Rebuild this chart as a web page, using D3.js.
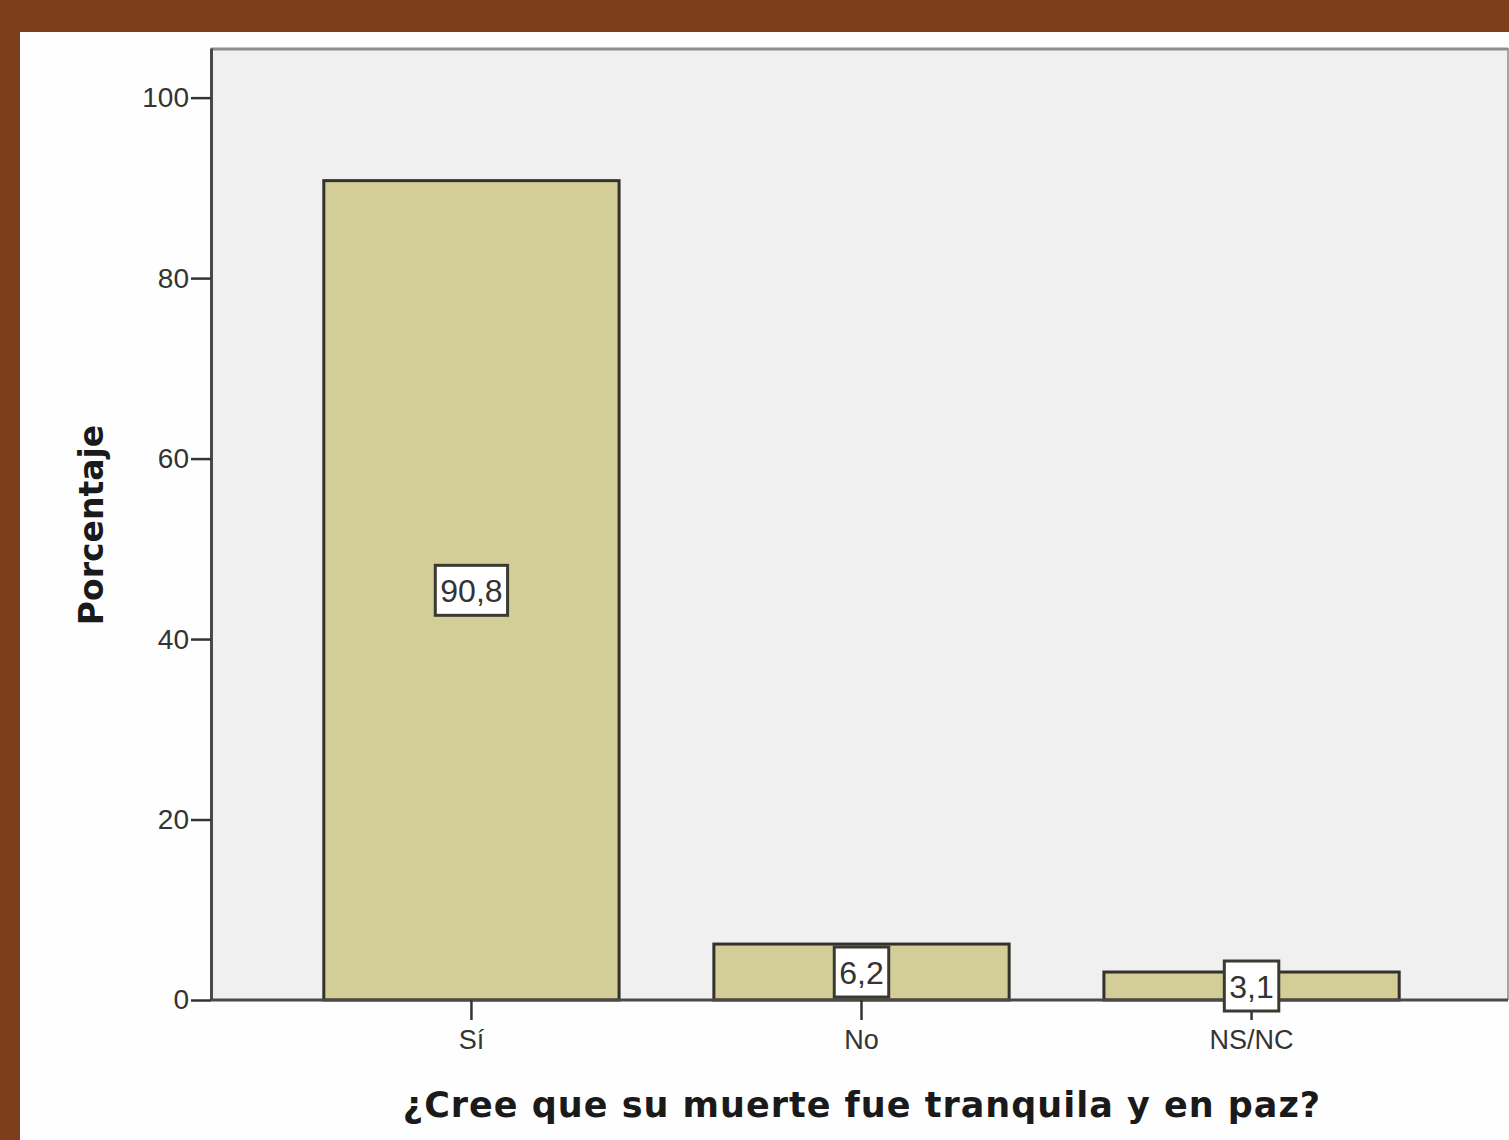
<!DOCTYPE html>
<html><head><meta charset="utf-8">
<script src="https://cdn.jsdelivr.net/npm/d3@7"></script>
<style>html,body{margin:0;padding:0;background:#7d3f1b;overflow:hidden}</style>
</head><body>
<script>
const categories = ["Sí", "No", "NS/NC"];
const values = [90.8, 6.2, 3.1];
const valueLabels = ["90,8", "6,2", "3,1"];
const yTicks = [0, 20, 40, 60, 80, 100];
const xTitle = "¿Cree que su muerte fue tranquila y en paz?";
const yTitle = "Porcentaje";

const W = 1509, H = 1140;
const svg = d3.select("body").append("svg").attr("width", W).attr("height", H);
svg.append("rect").attr("width", W).attr("height", H).attr("fill", "#7d3f1b");
svg.append("rect").attr("x", 20).attr("y", 32).attr("width", W - 20).attr("height", H - 32).attr("fill", "#fefefe");

const plot = {left: 211, top: 48, right: 1508, bottom: 1000};
const y = d3.scaleLinear().domain([0, 105.5]).range([plot.bottom, plot.top]);
const x = d3.scaleBand().domain(categories).range([277, 1446]).paddingInner(0.243).paddingOuter(0.12);

// plot background
svg.append("rect").attr("x", plot.left).attr("y", plot.top)
  .attr("width", plot.right - plot.left).attr("height", plot.bottom - plot.top)
  .attr("fill", "#f0f0f0");
// frame
svg.append("line").attr("x1", plot.left).attr("x2", plot.right).attr("y1", plot.top + 1).attr("y2", plot.top + 1)
  .attr("stroke", "#8a8f8d").attr("stroke-width", 3);
svg.append("line").attr("x1", plot.right).attr("x2", plot.right).attr("y1", plot.top).attr("y2", plot.bottom)
  .attr("stroke", "#888").attr("stroke-width", 1.5);

// bars
svg.selectAll("rect.bar").data(categories).enter().append("rect").attr("class", "bar")
  .attr("x", d => x(d)).attr("width", x.bandwidth())
  .attr("y", (d, i) => y(values[i])).attr("height", (d, i) => y(0) - y(values[i]))
  .attr("fill", "#d3ce98").attr("stroke", "#33312a").attr("stroke-width", 3);

// y axis
const yAxis = d3.axisLeft(y).tickValues(yTicks).tickSize(20).tickSizeOuter(0).tickPadding(2).tickFormat(d3.format("d"));
const gy = svg.append("g").attr("transform", `translate(${plot.left},0)`).call(yAxis);
gy.select(".domain").attr("stroke", "#4a4a4a").attr("stroke-width", 3);
gy.selectAll(".tick line").attr("stroke", "#333").attr("stroke-width", 2.5);
gy.selectAll(".tick text").attr("font-family", "Liberation Sans, Arial, sans-serif").attr("font-size", 28).attr("fill", "#333");

// x axis
const xAxis = d3.axisBottom(x).tickSize(20).tickPadding(10).tickSizeOuter(0);
const gx = svg.append("g").attr("transform", `translate(0,${plot.bottom})`).call(xAxis);
gx.select(".domain").attr("d", `M${plot.left},0H${plot.right}`).attr("stroke", "#4a4a4a").attr("stroke-width", 3);
gx.selectAll(".tick line").attr("stroke", "#333").attr("stroke-width", 2.5);
gx.selectAll(".tick text").attr("font-family", "Liberation Sans Narrow, Liberation Sans, Arial, sans-serif").attr("font-size", 27).attr("fill", "#333");

// value labels
const lab = svg.selectAll("g.lab").data(categories).enter().append("g").attr("class", "lab")
  .attr("transform", (d, i) => `translate(${x(d) + x.bandwidth() / 2},${(y(0) + y(values[i])) / 2})`);
lab.append("text").attr("text-anchor", "middle").attr("dy", "0.36em")
  .attr("font-family", "Liberation Sans Narrow, Liberation Sans, Arial, sans-serif").attr("font-size", 32).attr("fill", "#333")
  .text((d, i) => valueLabels[i]);
lab.each(function () {
  const g = d3.select(this);
  const bb = g.select("text").node().getBBox();
  g.insert("rect", "text").attr("x", bb.x - 5).attr("y", -25).attr("width", bb.width + 10).attr("height", 50)
    .attr("fill", "#fff").attr("stroke", "#3a3a33").attr("stroke-width", 3);
});

// titles
svg.append("text").attr("x", 862).attr("y", 1117).attr("text-anchor", "middle")
  .attr("font-family", "DejaVu Sans, Verdana, sans-serif").attr("font-weight", "bold").attr("font-size", 35)
  .attr("fill", "#1a1a1a").attr("letter-spacing", 1).text(xTitle);
svg.append("text").attr("transform", "translate(103,525) rotate(-90)").attr("text-anchor", "middle")
  .attr("font-family", "DejaVu Sans, Verdana, sans-serif").attr("font-weight", "bold").attr("font-size", 33)
  .attr("fill", "#1a1a1a").text(yTitle);
</script>
</body></html>
